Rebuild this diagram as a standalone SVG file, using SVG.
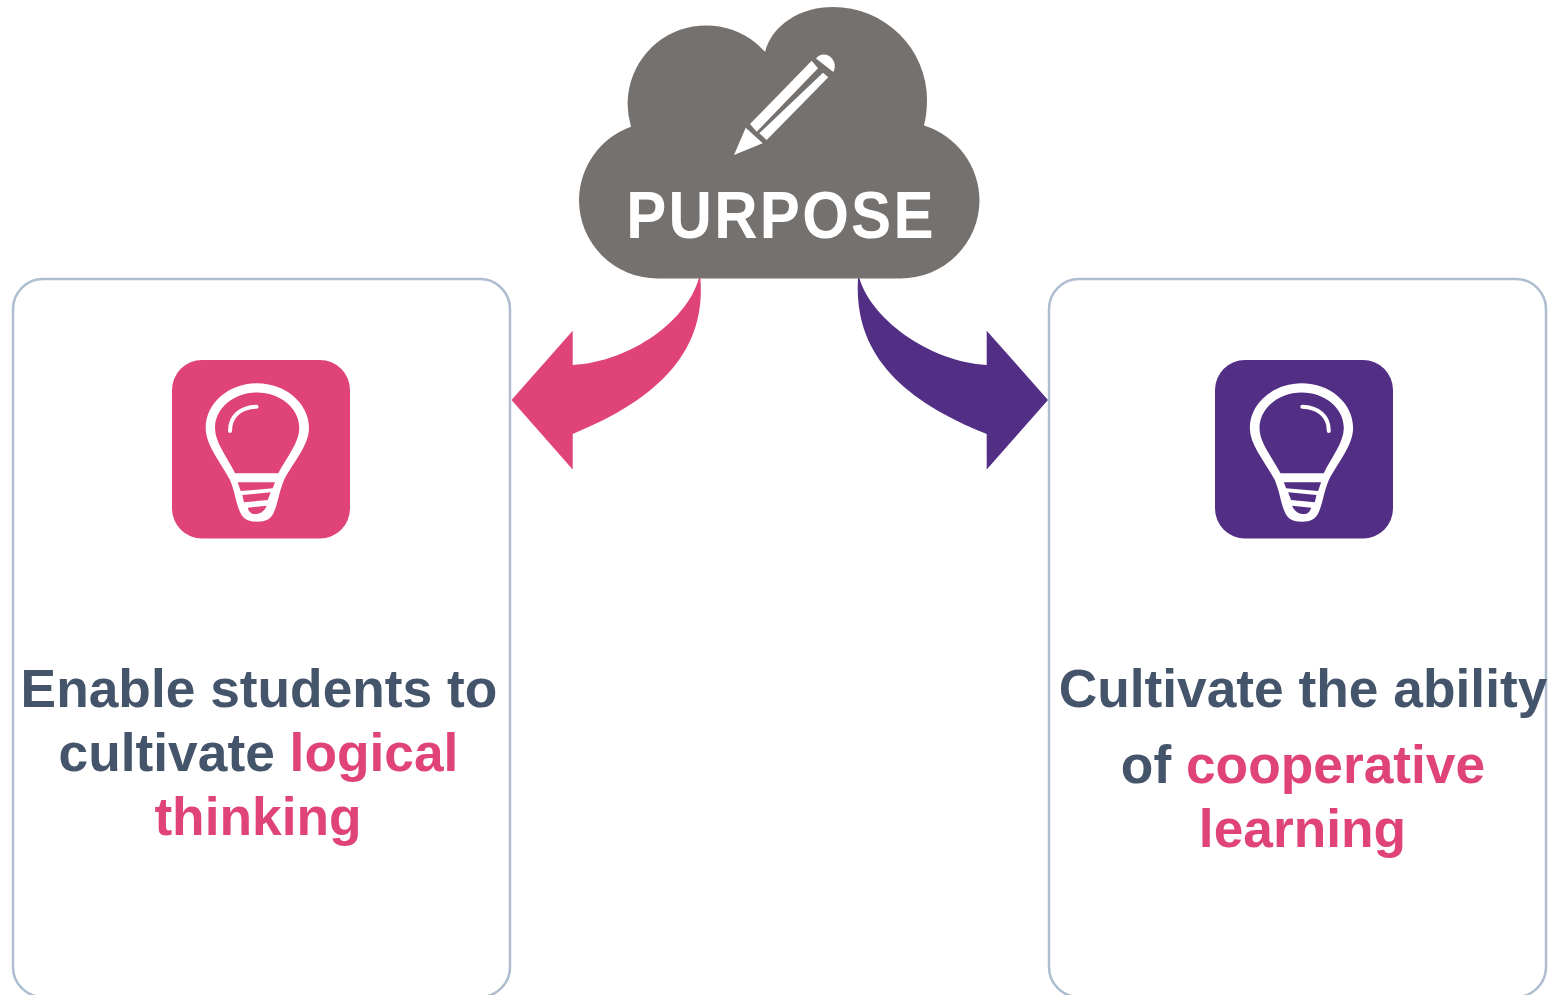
<svg xmlns="http://www.w3.org/2000/svg" width="1552" height="995" viewBox="0 0 1552 995">
<style>
.box{fill:#fff;stroke:#aebdd0;stroke-width:2.500}
.t{font-family:"Liberation Sans",Arial,sans-serif;font-weight:700;font-size:53.300px;text-anchor:middle;fill:#44546a}
.p{fill:#e04377}
.v{fill:#522f84}
</style>
<defs>
<g id="bulb">
<path fill="#fff" d="M257 383.300C285 383.300 309 403 309 428C309 445 293 463 284 480C279 492 278 503 274 512C271 519 266 521.700 257 521.700C248 521.700 243 519 240 512C236 503 235 492 230 480C221 463 205.700 445 205.700 428C205.700 403 229 383.300 257 383.300Z"/>
<path d="M257 392.500C280 392.500 299.300 408 299.300 428C299.300 443 286 458 278.300 473.300H235C228 458 215 443 215 428C215 408 234 392.500 257 392.500Z"/>
<path d="M237.700 482.300H275L272.700 488.300L240.700 491ZM242.300 495L270.700 492.300L267.700 500L244 502.300ZM247.700 507.700L266.700 505.700C264 512 260 514 255 514C251 514 249 512 247.700 507.700Z"/>
<path fill="none" stroke="#fff" stroke-width="4" stroke-linecap="round" d="M230 431C230 416 241 407 256.500 406.700"/>
</g>
</defs>
<g id="connectors">
<path class="p" d="M511.500 400L572.700 330.700V365C630 362 690 320 700 274C708 350 660 398 572.700 434V469.500Z"/>
<path class="v" d="M1048 400L986.700 330.700V365C930 362 868 318 858.300 274C852 350 897 398 986.700 434V469.500Z"/>
</g>
<g id="box-left">
<rect class="box" x="13" y="279" width="497" height="718" rx="30"/>
<rect class="p" x="172" y="360" width="178" height="178.500" rx="30"/>
<use href="#bulb" class="p"/>
<text class="t" x="259" y="706.500">Enable students to</text>
<text class="t" x="258.500" y="770.500">cultivate <tspan class="p">logical</tspan></text>
<text class="t p" x="258" y="834.500">thinking</text>
</g>
<g id="box-right">
<rect class="box" x="1049" y="279" width="497" height="718" rx="30"/>
<rect class="v" x="1215" y="360" width="178" height="178.500" rx="30"/>
<use href="#bulb" class="v" transform="translate(1558.800 0) scale(-1 1)"/>
<text class="t" x="1303" y="706.500">Cultivate the ability</text>
<text class="t" x="1303" y="782.500">of <tspan class="p">cooperative</tspan></text>
<text class="t p" x="1302.500" y="847">learning</text>
</g>
<g id="cloud">
<path fill="#75716f" d="M900 278.500H658A78.500 78.500 0 0 1 579 200A78.500 78.500 0 0 1 631 126.700A78.500 78.500 0 0 1 765 52C772 25 800 7 833 7A94 93 0 0 1 927 100C927 109 926 117 924 125.500A79 79 0 0 1 979.500 200A79 78.500 0 0 1 900 278.500Z"/>
<path fill="#fff" d="M811.700 60.700L818 68.300L756.700 131.700L750 124ZM823 72.700L828.300 77.300L766.700 140L759.300 133.300ZM816 58.500C820 53 828 53.500 832 58.500C835.500 63 835.500 68 833.300 72ZM745.700 127.700L762.700 143.300L734 155Z"/>
<text transform="translate(781 238) scale(.91 1)" x="0" y="0" text-anchor="middle" fill="#fff" font-family="'Liberation Sans',Arial,sans-serif" font-weight="700" font-size="66" letter-spacing="2.500">PURPOSE</text>
</g>
</svg>
